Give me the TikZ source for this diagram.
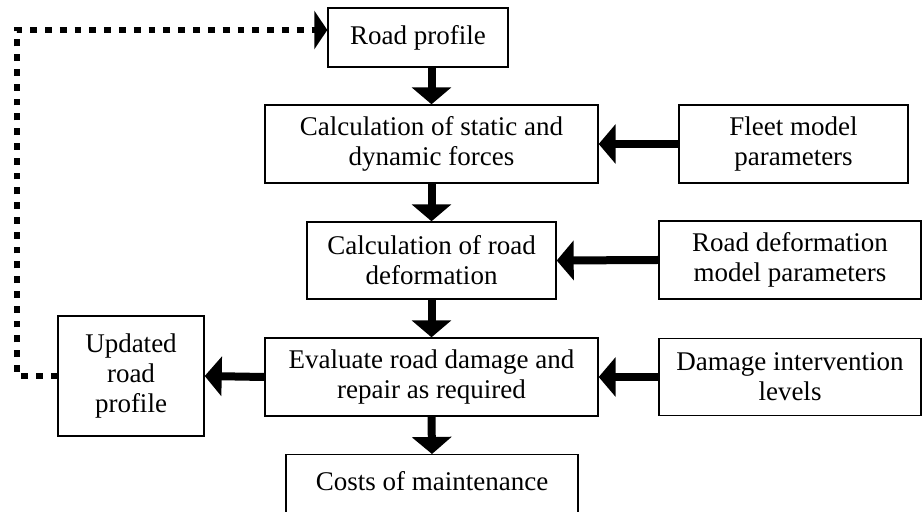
\documentclass[tikz,border=0pt]{standalone}
\usepackage{fontspec}
\setmainfont{Liberation Serif}
\usetikzlibrary{arrows.meta,calc}

\tikzset{
  box/.style={draw, line width=0.7pt, align=center, inner sep=0pt, font=\fontsize{13.5}{15}\selectfont},
  flow/.style={line width=4pt, -{Triangle[length=8.5pt,width=19.5pt]}},
  feedback/.style={line width=3.4pt, dash pattern=on 3.4pt off 4pt, -{Triangle[length=6.5pt,width=19pt]}}
}

\begin{document}
\begin{tikzpicture}[x=0.5pt,y=-0.5pt]
				\useasboundingbox (0,0) rectangle (922,512);
				% main chain
				\node[box, minimum width=90pt, minimum height=29.5pt] (prof) at (418,37.5) {Road profile};
				\node[box, minimum width=166.5pt, minimum height=39pt] (forces) at (431.5,144) {Calculation of static and\\dynamic forces};
				\node[box, minimum width=124.5pt, minimum height=38.5pt] (deform) at (431.5,260.5) {Calculation of road\\deformation};
				\node[box, minimum width=166.5pt, minimum height=39pt] (evaluate) at (431.5,377) {Evaluate road damage and\\repair as required};
				\node[box, anchor=north, minimum width=146pt, text height=18pt, text depth=20pt] (costs) at (432,454) {Costs of maintenance};
				% inputs on the right
				\node[box, minimum width=114.5pt, minimum height=39pt] (fleet) at (793.5,144) {Fleet model\\parameters};
				\node[box, minimum width=131pt, minimum height=39pt] (model) at (790,260) {Road deformation\\model parameters};
				\node[box, minimum width=131pt, minimum height=38.5pt] (damage) at (790,377) {Damage intervention\\levels};
				% output on the left
				\node[box, minimum width=73pt, minimum height=60pt] (updated) at (131,376) {Updated\\road\\profile};
				\coordinate (loop) at (17,30);

				\draw[flow] (forces.north |- prof.south) -- (forces.north);
				\draw[flow] (forces.south) -- (deform.north);
				\draw[flow] (deform.south) -- (evaluate.north);
				\draw[flow] (evaluate.south) -- (costs.north);
				\draw[flow] (fleet.west) -- (forces.east);
				\draw[flow] (model.west) -- (deform.east);
				\draw[flow] (damage.west) -- (evaluate.east);
				\draw[flow] (evaluate.west) -- (updated.east);
				\draw[feedback] (updated.west) -| (loop) -- (loop -| prof.west);
			\end{tikzpicture}
\end{document}
